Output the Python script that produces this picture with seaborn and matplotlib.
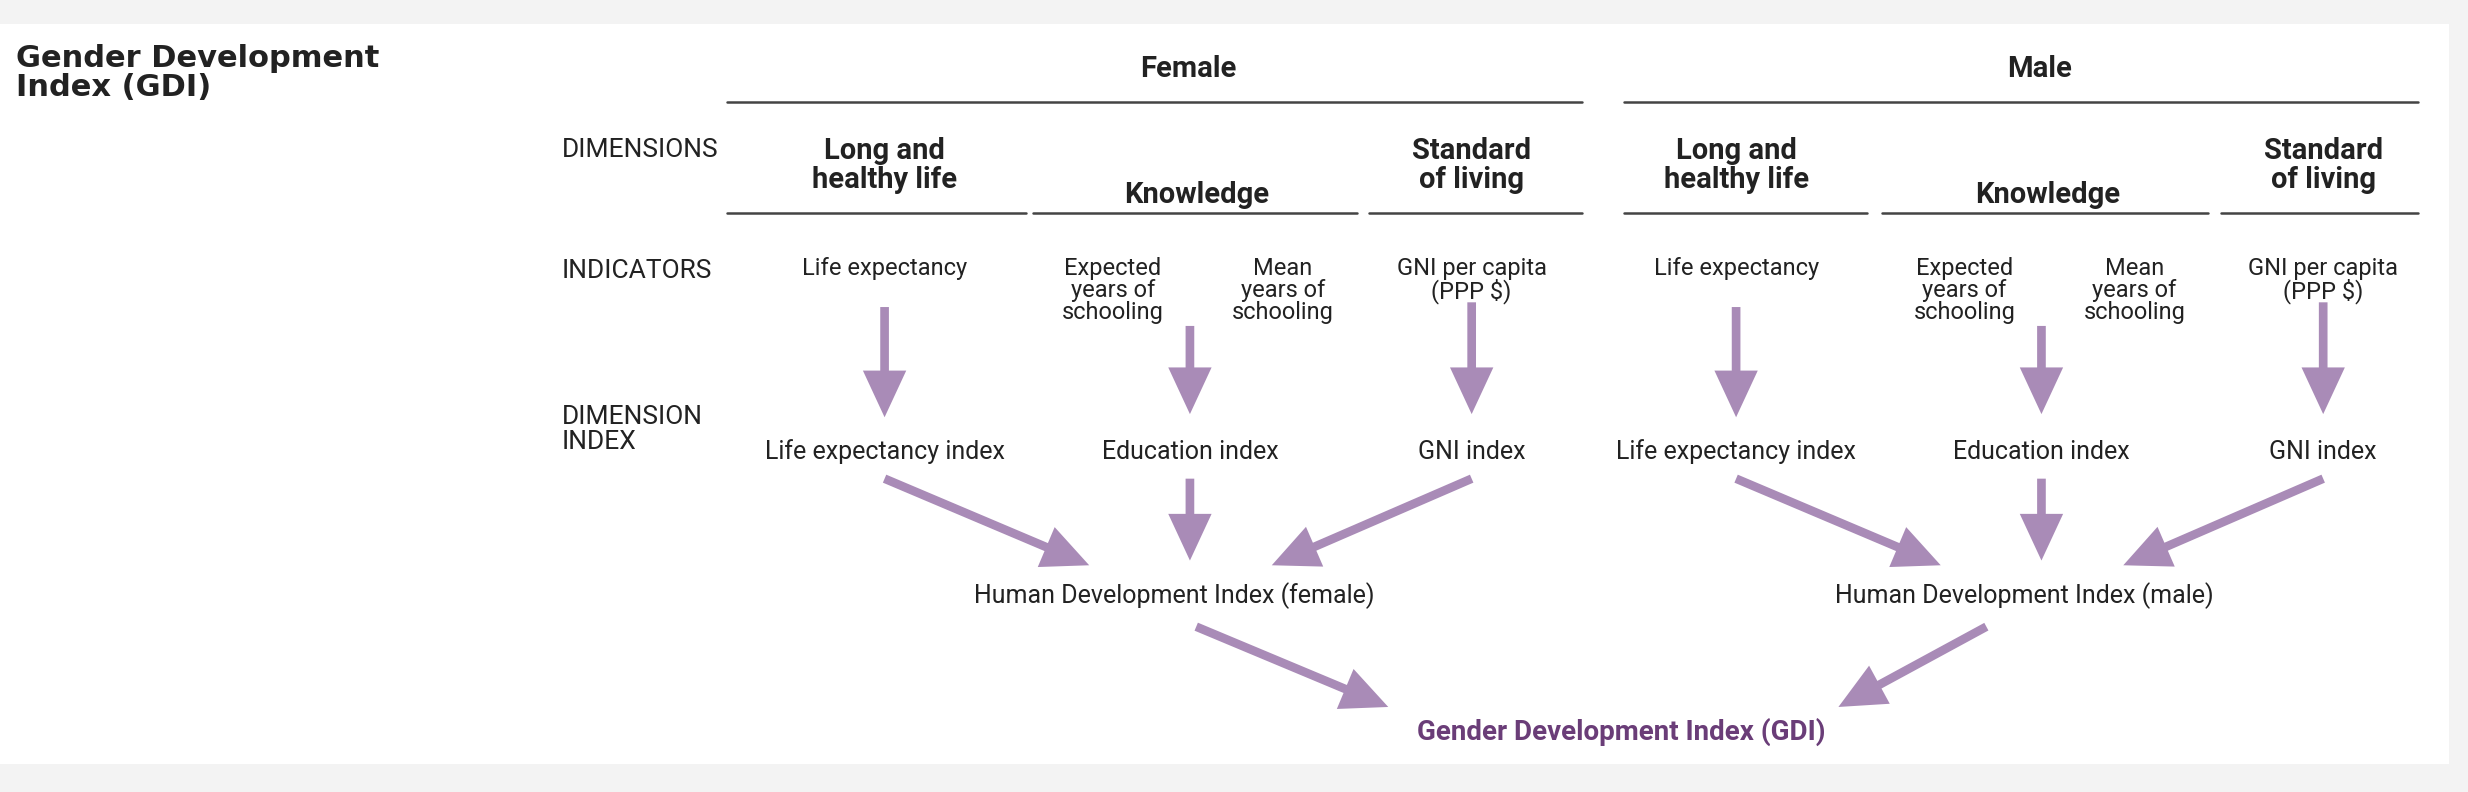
import matplotlib
matplotlib.use("Agg")
import matplotlib.pyplot as plt
import seaborn as sns
from matplotlib.patches import Rectangle

sns.set_theme(style="white")
plt.rcParams["font.family"] = ["Roboto", "DejaVu Sans"]

# diagram content (coordinates in a 1568 x 503 layout space)
groups = ["Female", "Male"]
group_shift = [0, 541]
row_labels = ["DIMENSIONS", "INDICATORS", "DIMENSION\nINDEX"]
dimensions = ["Long and\nhealthy life", "Knowledge", "Standard\nof living"]
indicators = ["Life expectancy", "Expected\nyears of\nschooling", "Mean\nyears of\nschooling",
              "GNI per capita\n(PPP $)"]
dim_indices = ["Life expectancy index", "Education index", "GNI index"]
hdi_labels = ["Human Development Index (female)", "Human Development Index (male)"]
final_label = "Gender Development Index (GDI)"
title = "Gender Development\nIndex (GDI)"

purple = "#a98bb7"
dark_purple = "#6a3d78"
ink = "#222222"

fig = plt.figure(figsize=(24.68, 7.92), dpi=100)
fig.patch.set_facecolor("#f3f3f3")
ax = fig.add_axes([0, 0, 1, 1])
ax.set_xlim(0, 1568)
ax.set_ylim(503, 0)
ax.axis("off")
ax.add_patch(Rectangle((0, 15), 1556, 470, facecolor="white", edgecolor="none"))

ax.text(10, 28, title, fontsize=22, fontweight="bold", va="top", ha="left", color=ink,
        family=["DejaVu Sans"], linespacing=1.0)

ax.text(357, 95, row_labels[0], fontsize=19, va="center", ha="left", color=ink)
ax.text(357, 172, row_labels[1], fontsize=19, va="center", ha="left", color=ink)
ax.text(357, 273, row_labels[2], fontsize=19, va="center", ha="left", color=ink,
        linespacing=1.05)


def arrow(x0, y0, x1, y1):
    ax.annotate("", xy=(x1, y1), xytext=(x0, y0),
                arrowprops=dict(arrowstyle="simple,head_width=1.3,head_length=1.4,tail_width=0.26",
                                mutation_scale=24, color=purple, lw=0, shrinkA=0, shrinkB=0))


top_lines = [(462, 1005), (1032, 1536)]
dim_lines = [[(462, 652), (656, 862), (870, 1005)],
             [(1032, 1186), (1196, 1403), (1411, 1536)]]

for g, dx, tl, dl in zip(groups, group_shift, top_lines, dim_lines):
    ax.text(755 + dx, 44, g, fontsize=21, fontweight="bold", ha="center", va="center", color=ink)
    ax.plot(tl, [65, 65], color="#444444", lw=1.8)
    dim_x = [562, 760, 935]
    dim_y = [105, 124, 105]
    for d, x, y in zip(dimensions, dim_x, dim_y):
        ax.text(x + dx, y, d, fontsize=21, fontweight="bold", ha="center", va="center",
                color=ink, linespacing=1.05)
    for a, b in dl:
        ax.plot([a, b], [135, 135], color="#444444", lw=1.8)
    ind_x = [562, 707, 815, 935]
    for t, x in zip(indicators, ind_x):
        ax.text(x + dx, 163, t, fontsize=17, ha="center", va="top", color=ink, linespacing=0.95)
    idx_x = [562, 756, 935]
    for t, x in zip(dim_indices, idx_x):
        ax.text(x + dx, 287, t, fontsize=18, ha="center", va="center", color=ink)
    arrow(562 + dx, 195, 562 + dx, 265)
    arrow(756 + dx, 207, 756 + dx, 263)
    arrow(935 + dx, 192, 935 + dx, 263)
    arrow(562 + dx, 304, 692 + dx, 359)
    arrow(756 + dx, 304, 756 + dx, 356)
    arrow(935 + dx, 304, 808 + dx, 359)

ax.text(746, 378, hdi_labels[0], fontsize=18, ha="center", va="center", color=ink)
ax.text(1286, 378, hdi_labels[1], fontsize=18, ha="center", va="center", color=ink)
arrow(760, 398, 882, 449)
arrow(1262, 398, 1168, 449)
ax.text(1030, 465, final_label, fontsize=20, fontweight="bold", ha="center", va="center",
        color=dark_purple)

fig.savefig("out.png", dpi=100, facecolor=fig.get_facecolor())
